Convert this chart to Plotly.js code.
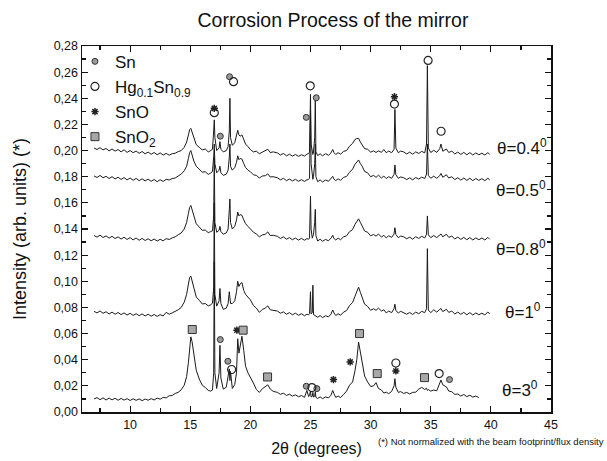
<!DOCTYPE html>
<html><head><meta charset="utf-8">
<script src="https://cdn.plot.ly/plotly-3.0.1.min.js"></script>
<style>html,body{margin:0;padding:0;background:#fff}#chart{width:607px;height:461px}</style>
</head><body><div id="chart"></div>
<script>
// 2-theta grid (degrees)
const twoTheta = [
7.0,7.25,7.5,7.75,8.0,8.25,8.5,8.75,9.0,9.25,9.5,9.75,10.0,10.25,10.5,10.75,11.0,11.25,11.5,11.75,12.0,12.25,12.5,12.75,13.0,13.25,13.5,13.75,14.0,
14.25,14.5,14.7,14.85,14.95,15.05,15.15,15.3,15.5,15.75,16.0,16.25,16.5,16.7,16.85,
16.95,17.0,17.05,17.2,17.4,17.47,17.55,17.75,18.0,18.15,18.25,18.3,18.35,18.5,18.7,18.85,18.95,19.05,19.15,19.3,19.45,19.6,19.8,20.0,20.25,20.5,20.75,21.0,21.25,21.45,21.65,21.9,
22.25,22.5,22.75,23.0,23.25,23.5,23.75,24.0,24.25,24.5,24.7,24.85,24.92,
25.0,25.05,25.15,25.2,25.25,25.35,25.4,25.45,25.6,25.8,26.0,26.25,26.5,26.7,26.85,26.95,27.1,27.3,27.5,27.75,28.0,28.25,28.5,28.7,28.85,29.0,29.15,29.3,29.5,29.75,30.0,30.25,30.45,30.65,30.9,31.1,31.3,31.5,31.75,31.95,32.02,32.1,32.3,32.5,
32.75,33.0,33.25,33.5,33.75,34.0,34.25,34.5,34.65,34.72,34.8,35.0,35.25,35.5,35.75,35.85,36.0,36.3,36.5,36.75,37.0,37.25,37.5,37.75,38.0,38.25,38.5,38.75,39.0,39.25,39.5,39.75,39.9
];

const theta04 = [
0.2020,0.2008,0.2022,0.2005,0.2016,0.1998,0.2012,0.1996,0.2008,0.1990,0.2006,0.1986,0.2000,0.1984,0.1996,0.1979,0.1993,0.1975,0.1988,0.1972,0.1985,0.1968,0.1982,0.1966,0.1978,0.1965,0.1976,0.1980,0.1992,
0.2000,0.2025,0.2065,0.2120,0.2160,0.2170,0.2140,0.2090,0.2045,0.2025,0.2005,0.2012,0.1990,0.2000,0.2010,
0.2150,0.2235,0.2100,0.2000,0.2020,0.2068,0.2010,0.1990,0.2000,0.2030,0.2150,0.2400,0.2100,0.2040,0.2060,0.2110,0.2155,0.2120,0.2110,0.2120,0.2080,0.2050,0.2030,0.2008,0.1990,0.1995,0.1976,0.1990,0.1998,0.2010,0.1985,0.1990,
0.1982,0.1966,0.1978,0.1960,0.1972,0.1958,0.1970,0.1956,0.1968,0.1958,0.1972,0.1978,0.1988,
0.2430,0.2050,0.1975,0.1970,0.1990,0.2100,0.2380,0.1990,
0.1962,0.1975,0.1960,0.1976,0.1964,0.1982,0.2008,0.1985,0.1970,0.1984,0.1972,0.1994,0.2000,0.2034,0.2055,0.2085,0.2092,0.2094,0.2065,0.2045,0.2015,0.2010,0.1988,0.1998,0.1985,0.1998,0.1986,0.2008,0.1984,0.1996,0.1984,0.2010,0.2315,0.2020,0.1984,0.1996,
0.1990,0.1974,0.1988,0.1972,0.1990,0.1978,0.1994,0.1982,0.2050,0.2650,0.2020,
0.1985,0.2002,0.1986,0.2015,0.2050,0.1995,0.2012,0.1985,0.1996,0.1974,0.1988,0.1970,0.1986,0.1968,0.1984,0.1966,0.1982,0.1968,0.1980,0.1966,0.1984,0.1972
];

const theta05 = [
0.1806,0.1794,0.1810,0.1792,0.1803,0.1786,0.1800,0.1783,0.1796,0.1779,0.1793,0.1776,0.1790,0.1773,0.1787,0.1770,0.1784,0.1768,0.1781,0.1765,0.1779,0.1762,0.1777,0.1764,0.1780,0.1775,0.1786,0.1790,0.1805,
0.1820,0.1845,0.1880,0.1940,0.1985,0.2000,0.1965,0.1920,0.1880,0.1860,0.1835,0.1838,0.1818,0.1828,0.1840,
0.1950,0.2050,0.1900,0.1830,0.1850,0.1880,0.1830,0.1810,0.1820,0.1850,0.1950,0.2050,0.1880,0.1850,0.1870,0.1910,0.1960,0.1930,0.1940,0.1935,0.1900,0.1870,0.1850,0.1838,0.1815,0.1810,0.1790,0.1805,0.1808,0.1822,0.1798,0.1800,
0.1792,0.1776,0.1788,0.1770,0.1782,0.1768,0.1780,0.1765,0.1777,0.1764,0.1776,0.1780,0.1788,
0.2300,0.1900,0.1790,0.1780,0.1800,0.1900,0.2050,0.1800,
0.1762,0.1776,0.1760,0.1775,0.1765,0.1784,0.1803,0.1782,0.1770,0.1784,0.1772,0.1795,0.1802,0.1834,0.1858,0.1895,0.1912,0.1928,0.1900,0.1880,0.1840,0.1830,0.1800,0.1810,0.1795,0.1812,0.1790,0.1805,0.1786,0.1800,0.1788,0.1818,0.1890,0.1815,0.1788,0.1798,
0.1792,0.1778,0.1792,0.1776,0.1794,0.1782,0.1797,0.1786,0.1820,0.2050,0.1810,
0.1788,0.1804,0.1788,0.1808,0.1825,0.1796,0.1815,0.1790,0.1800,0.1778,0.1792,0.1774,0.1790,0.1772,0.1788,0.1770,0.1786,0.1772,0.1785,0.1770,0.1788,0.1776
];

const theta08 = [
0.1350,0.1338,0.1353,0.1335,0.1347,0.1330,0.1344,0.1327,0.1340,0.1323,0.1337,0.1320,0.1334,0.1317,0.1331,0.1314,0.1328,0.1312,0.1325,0.1310,0.1323,0.1308,0.1321,0.1310,0.1326,0.1320,0.1332,0.1340,0.1356,
0.1370,0.1400,0.1450,0.1520,0.1565,0.1580,0.1545,0.1490,0.1440,0.1415,0.1390,0.1392,0.1372,0.1380,0.1386,
0.1500,0.1950,0.1450,0.1375,0.1390,0.1420,0.1380,0.1360,0.1370,0.1400,0.1550,0.1630,0.1450,0.1400,0.1420,0.1470,0.1530,0.1500,0.1510,0.1505,0.1470,0.1440,0.1420,0.1402,0.1376,0.1362,0.1340,0.1355,0.1360,0.1378,0.1350,0.1352,
0.1344,0.1328,0.1340,0.1322,0.1334,0.1318,0.1331,0.1315,0.1328,0.1314,0.1326,0.1322,0.1332,
0.1650,0.1400,0.1330,0.1340,0.1360,0.1450,0.1550,0.1350,
0.1308,0.1322,0.1306,0.1320,0.1310,0.1330,0.1352,0.1328,0.1316,0.1330,0.1318,0.1340,0.1348,0.1380,0.1395,0.1435,0.1455,0.1478,0.1450,0.1425,0.1385,0.1375,0.1348,0.1358,0.1345,0.1362,0.1338,0.1352,0.1332,0.1348,0.1336,0.1362,0.1410,0.1358,0.1334,0.1346,
0.1340,0.1325,0.1338,0.1322,0.1341,0.1328,0.1344,0.1332,0.1360,0.1500,0.1355,
0.1334,0.1350,0.1334,0.1354,0.1362,0.1340,0.1360,0.1336,0.1346,0.1324,0.1338,0.1320,0.1336,0.1318,0.1334,0.1316,0.1332,0.1318,0.1331,0.1316,0.1336,0.1322
];

const theta1 = [
0.0770,0.0758,0.0773,0.0755,0.0767,0.0750,0.0764,0.0748,0.0761,0.0745,0.0758,0.0742,0.0755,0.0739,0.0752,0.0737,0.0750,0.0735,0.0748,0.0733,0.0746,0.0731,0.0745,0.0735,0.0762,0.0748,0.0758,0.0768,0.0782,
0.0800,0.0840,0.0900,0.0980,0.1030,0.1040,0.1000,0.0940,0.0880,0.0855,0.0826,0.0830,0.0812,0.0820,0.0832,
0.0950,0.1600,0.0900,0.0810,0.0850,0.0945,0.0830,0.0785,0.0795,0.0830,0.0920,0.0850,0.0830,0.0830,0.0850,0.0920,0.1000,0.0960,0.0980,0.0990,0.0930,0.0900,0.0880,0.0858,0.0815,0.0795,0.0762,0.0785,0.0796,0.0812,0.0782,0.0778,
0.0772,0.0756,0.0766,0.0748,0.0760,0.0744,0.0756,0.0740,0.0752,0.0736,0.0748,0.0744,0.0752,
0.0920,0.0750,0.0760,0.0970,0.0745,0.0740,0.0738,0.0735,
0.0725,0.0738,0.0722,0.0736,0.0728,0.0748,0.0780,0.0758,0.0738,0.0752,0.0740,0.0764,0.0776,0.0814,0.0838,0.0885,0.0925,0.0955,0.0915,0.0875,0.0825,0.0808,0.0778,0.0790,0.0778,0.0795,0.0772,0.0782,0.0758,0.0772,0.0760,0.0792,0.0825,0.0776,0.0758,0.0770,
0.0762,0.0748,0.0761,0.0746,0.0764,0.0752,0.0770,0.0760,0.0790,0.1250,0.0780,
0.0760,0.0782,0.0764,0.0785,0.0792,0.0768,0.0786,0.0762,0.0772,0.0750,0.0764,0.0747,0.0762,0.0744,0.0760,0.0742,0.0758,0.0744,0.0756,0.0743,0.0765,0.0750
];

const theta3 = [
0.0100,0.0110,0.0094,0.0108,0.0092,0.0106,0.0093,0.0105,0.0090,0.0104,0.0091,0.0102,0.0088,0.0101,0.0089,0.0100,0.0087,0.0099,0.0090,0.0102,0.0092,0.0106,0.0098,0.0112,0.0108,0.0124,0.0126,0.0142,0.0150,
0.0170,0.0205,0.0270,0.0380,0.0500,0.0575,0.0540,0.0440,0.0320,0.0252,0.0205,0.0188,0.0165,0.0160,0.0168,
0.0300,0.1150,0.0300,0.0180,0.0300,0.0510,0.0260,0.0175,0.0190,0.0300,0.0330,0.0240,0.0310,0.0180,0.0210,0.0300,0.0560,0.0450,0.0500,0.0580,0.0470,0.0350,0.0300,0.0270,0.0222,0.0172,0.0150,0.0178,0.0192,0.0208,0.0176,0.0158,
0.0150,0.0135,0.0144,0.0127,0.0136,0.0122,0.0131,0.0117,0.0126,0.0112,0.0165,0.0118,0.0128,
0.0160,0.0115,0.0120,0.0150,0.0115,0.0120,0.0155,0.0112,
0.0104,0.0116,0.0102,0.0115,0.0108,0.0128,0.0165,0.0140,0.0112,0.0122,0.0110,0.0134,0.0160,0.0205,0.0230,0.0315,0.0400,0.0535,0.0450,0.0360,0.0275,0.0230,0.0195,0.0200,0.0225,0.0180,0.0168,0.0145,0.0152,0.0140,0.0158,0.0200,0.0255,0.0190,0.0150,0.0156,
0.0142,0.0150,0.0138,0.0150,0.0152,0.0175,0.0188,0.0172,0.0182,0.0165,0.0172,
0.0160,0.0168,0.0162,0.0215,0.0245,0.0208,0.0192,0.0160,0.0155,0.0135,0.0138,0.0122,0.0134,0.0118,0.0128,0.0114,0.0122,0.0110,null,null,null,null
];

// phase identification marks
const snX = [17.5, 18.27, 24.65, 25.48, 17.5, 18.13, 24.65, 25.53, 36.56];
const snY = [0.211, 0.2565, 0.2254, 0.2404, 0.0554, 0.0388, 0.0197, 0.0179, 0.0248];
const hgX = [17.0, 18.6, 24.98, 31.98, 34.78, 35.86, 18.44, 25.12, 32.1, 35.7];
const hgY = [0.229, 0.2527, 0.2495, 0.2356, 0.269, 0.2148, 0.0325, 0.0187, 0.0375, 0.0294];
const snoX = [17.0, 31.98, 18.88, 26.91, 28.3, 32.1];
const snoY = [0.2323, 0.2412, 0.0626, 0.0248, 0.0383, 0.0314];
const sno2X = [15.17, 19.4, 21.43, 29.08, 30.55, 34.48];
const sno2Y = [0.0631, 0.0626, 0.0268, 0.06, 0.0294, 0.0263];

const curveLabels = ['θ=0.4<sup>0</sup>', 'θ=0.5<sup>0</sup>', 'θ=0.8<sup>0</sup>', 'θ=1<sup>0</sup>', 'θ=3<sup>0</sup>'];
const phaseNames = ['Sn', 'Hg<sub>0.1</sub>Sn<sub>0.9</sub>', 'SnO', 'SnO<sub>2</sub>'];

const FONT = 'Liberation Sans, Arial, sans-serif';
const series = [theta04, theta05, theta08, theta1, theta3];
const traces = series.map(s => ({
  x: twoTheta, y: s, type: 'scatter', mode: 'lines',
  line: {color: '#1a1a1a', width: 1}, showlegend: false, hoverinfo: 'skip', connectgaps: false
}));
traces.push({x: snX, y: snY, name: phaseNames[0], type: 'scatter', mode: 'markers',
  marker: {symbol: 'circle', size: 6, color: '#9a9a9a', line: {color: '#333', width: 1}}});
traces.push({x: hgX, y: hgY, name: phaseNames[1], type: 'scatter', mode: 'markers',
  marker: {symbol: 'circle-open', size: 8, color: '#222', line: {width: 1.2}}});
traces.push({x: snoX, y: snoY, name: phaseNames[2], type: 'scatter', mode: 'markers',
  marker: {symbol: 'asterisk', size: 6, color: '#222', line: {color: '#222', width: 1.5}}});
traces.push({x: sno2X, y: sno2Y, name: phaseNames[3], type: 'scatter', mode: 'markers',
  marker: {symbol: 'square', size: 8, color: '#a8a8a8', line: {color: '#333', width: 1}}});

const labelPos = [[42.6, 0.2029], [42.5, 0.1703], [42.5, 0.1251], [42.7, 0.0773], [42.4, 0.0179]];
const annotations = curveLabels.map((t, i) => ({
  x: labelPos[i][0], y: labelPos[i][1], xref: 'x', yref: 'y', text: t, showarrow: false,
  font: {family: FONT, size: 17, color: '#111'}, xanchor: 'center', yanchor: 'middle'
}));
annotations.push({
  x: (606 - 82) / 469, y: (412 - 441) / 366, xref: 'paper', yref: 'paper',
  text: '(*) Not normalized with the beam footprint/flux density',
  showarrow: false, xanchor: 'right', yanchor: 'middle', font: {family: FONT, size: 9.5, color: '#111'}
});

const axisCommon = {
  showline: true, linecolor: '#111', linewidth: 1.5, mirror: 'allticks', ticks: 'inside',
  ticklen: 6, tickwidth: 1.2, tickcolor: '#111', showgrid: false, zeroline: false,
  tickfont: {family: FONT, size: 12.5, color: '#111'}
};

const layout = {
  width: 607, height: 461, paper_bgcolor: '#fff', plot_bgcolor: '#fff',
  margin: {l: 82, r: 56, t: 46, b: 49},
  separators: ', ',
  title: {text: 'Corrosion Process of the mirror', font: {family: FONT, size: 19.5, color: '#111'},
    xref: 'container', yref: 'container', x: 333/607, y: 1 - 20/461, xanchor: 'center', yanchor: 'middle'},
  xaxis: Object.assign({}, axisCommon, {range: [6, 45], dtick: 5, tick0: 0,
    minor: {dtick: 2.5, tick0: 0, ticks: 'inside', ticklen: 4, tickcolor: '#111', tickwidth: 1.2},
    title: {text: '2θ (degrees)', font: {family: FONT, size: 16, color: '#111'}, standoff: 12}}),
  yaxis: Object.assign({}, axisCommon, {range: [0, 0.28], dtick: 0.02, tick0: 0, tickformat: '.2f',
    minor: {dtick: 0.01, tick0: 0, ticks: 'inside', ticklen: 4, tickcolor: '#111', tickwidth: 1.2},
    title: {text: 'Intensity (arb. units) (*)', font: {family: FONT, size: 18, color: '#111'}, standoff: 22}}),
  legend: {x: -0.015, y: 1.006, xanchor: 'left', yanchor: 'top', bgcolor: 'rgba(0,0,0,0)',
    font: {family: FONT, size: 17, color: '#111'}, itemwidth: 30, tracegroupgap: 0},
  annotations: annotations
};

Plotly.newPlot('chart', traces, layout, {displayModeBar: false, staticPlot: true});
</script>
</body></html>
